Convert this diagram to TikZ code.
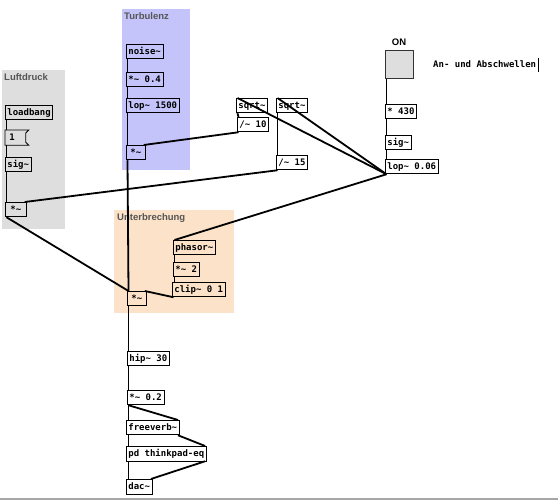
\documentclass[tikz,border=0pt]{standalone}
\usepackage{fontspec}
\newfontfamily\pdmono{DejaVu Sans Mono}
\newfontfamily\pdsans{Liberation Sans}
\newcommand{\pdtilde}{\char`\~}
\definecolor{grpgray}{RGB}{222,222,222}
\definecolor{grpblue}{RGB}{196,196,250}
\definecolor{grppeach}{RGB}{251,226,200}
\definecolor{lbl}{RGB}{85,85,85}
\definecolor{tglfill}{RGB}{222,222,222}
\tikzset{
  obj/.style={draw=black, line width=0.75pt, font=\pdmono\bfseries\fontsize{9}{10}\selectfont,
    inner xsep=2pt, inner ysep=0pt, minimum height=14.5pt, text height=7pt, text depth=2pt,
    anchor=north west},
  grp/.style={anchor=north west, inner sep=0pt, draw=none},
  grplabel/.style={anchor=north west, inner sep=0pt, font=\pdsans\bfseries\fontsize{9.5}{11}\selectfont, text=lbl},
  sig/.style={line width=1.8pt},
  ctl/.style={line width=0.8pt},
}
\begin{document}
\begin{tikzpicture}[x=1pt,y=-1pt]
\useasboundingbox (0,0) rectangle (558,500);
% groups
\node[grp, fill=grpgray, minimum width=63pt, minimum height=159pt] (gL) at (2,70) {};
\node[grp, fill=grpblue, minimum width=68pt, minimum height=161pt] (gT) at (122,9) {};
\node[grp, fill=grppeach, minimum width=120pt, minimum height=103pt] (gU) at (114,210) {};
\node[grplabel] (tL) at (4,73) {Luftdruck};
\node[grplabel] (tT) at (124,12) {Turbulenz};
\node[grplabel] (tU) at (117,213) {Unterbrechung};
% bottom border
\draw[line width=1.5pt, draw=gray!70] (0,499) -- (558,499);
% Turbulenz
\node[obj] (noise) at (126,44) {noise\pdtilde};
\node[obj] (mul04) at (126,72) {*\pdtilde{} 0.4};
\node[obj] (lop1500) at (126,98) {lop\pdtilde{} 1500};
\node[obj, minimum width=19pt] (mulT) at (126,145) {*\pdtilde};
% Luftdruck
\node[obj] (loadbang) at (5,105) {loadbang};
\node[obj, draw=none, minimum width=23pt, text width=15pt] (msg1) at (5,130) {1};
\draw[line width=0.75pt] (msg1.north west) -- (msg1.north east) -- ([xshift=-3pt,yshift=-3pt]msg1.north east)
  -- ([xshift=-3pt,yshift=3pt]msg1.south east) -- (msg1.south east) -- (msg1.south west) -- cycle;
\node[obj] (sigL) at (5,157) {sig\pdtilde};
\node[obj, minimum width=21pt] (mulL) at (5,202) {*\pdtilde};
% sqrt
\node[obj] (sqrt1) at (236,98) {sqrt\pdtilde};
\node[obj] (div10) at (237,117) {/\pdtilde{} 10};
\node[obj] (sqrt2) at (276,98) {sqrt\pdtilde};
\node[obj] (div15) at (276,155) {/\pdtilde{} 15};
% right column
\node[anchor=south, inner sep=0pt, font=\pdsans\bfseries\fontsize{9.5}{11}\selectfont] (onlbl) at (399,46) {ON};
\node[draw=black!80, line width=0.8pt, fill=tglfill, minimum width=28pt, minimum height=28pt, anchor=north west, inner sep=0pt] (tgl) at (385,50) {};
\node[anchor=west, inner sep=0pt, font=\pdmono\bfseries\fontsize{9}{10}\selectfont, text height=7pt, text depth=2pt] (cmt) at (433,65) {An- und Abschwellen};
\coordinate (curA) at ([xshift=2pt,yshift=7pt]cmt.east);
\coordinate (curB) at ([xshift=2pt,yshift=-7pt]cmt.east);
\draw[line width=0.8pt] (curA) -- (curB);
\node[obj] (mul430) at (385,104) {* 430};
\node[obj] (sigR) at (385,135) {sig\pdtilde};
\node[obj] (lop006) at (385,159) {lop\pdtilde{} 0.06};
% Unterbrechung
\node[obj] (phasor) at (173,240) {phasor\pdtilde};
\node[obj] (mul2) at (173,262) {*\pdtilde{} 2};
\node[obj] (clip) at (172,282) {clip\pdtilde{} 0 1};
\node[obj, minimum width=19pt] (mulU) at (127,291) {*\pdtilde};
% output chain
\node[obj] (hip) at (127,351) {hip\pdtilde{} 30};
\node[obj] (mul02) at (127,390) {*\pdtilde{} 0.2};
\node[obj] (freeverb) at (126,420) {freeverb\pdtilde};
\node[obj] (pdeq) at (126,446) {pd thinkpad-eq};
\node[obj] (dac) at (126,479) {dac\pdtilde};
% connections
\draw[sig] ([xshift=1.5pt]noise.south west) -- ([xshift=1.5pt]mul04.north west);
\draw[sig] ([xshift=1.5pt]mul04.south west) -- ([xshift=1.5pt]lop1500.north west);
\draw[sig] ([xshift=1.5pt]lop1500.south west) -- ([xshift=1.5pt]mulT.north west);
\draw[sig] ([xshift=1.5pt]div10.south west) -- ([xshift=-2pt]mulT.north east);
\draw[sig] ([xshift=1.5pt]mulT.south west) -- ([xshift=1.5pt]mulU.north west);
\draw[ctl] ([xshift=1.5pt]loadbang.south west) -- ([xshift=1.5pt]msg1.north west);
\draw[ctl] ([xshift=1.5pt]msg1.south west) -- ([xshift=1.5pt]sigL.north west);
\draw[sig] ([xshift=1.5pt]sigL.south west) -- ([xshift=1.5pt]mulL.north west);
\draw[sig] ([xshift=1.5pt]div15.south west) -- ([xshift=-2pt]mulL.north east);
\draw[sig] ([xshift=1.5pt]mulL.south west) -- ([xshift=1.5pt]mulU.north west);
\draw[sig] ([xshift=1.5pt]lop006.south west) -- ([xshift=1.5pt]sqrt1.north west);
\draw[sig] ([xshift=1.5pt]lop006.south west) -- ([xshift=1.5pt]sqrt2.north west);
\draw[sig] ([xshift=1.5pt]lop006.south west) -- ([xshift=1.5pt]phasor.north west);
\draw[sig] ([xshift=1.5pt]sqrt1.south west) -- ([xshift=1.5pt]div10.north west);
\draw[sig] ([xshift=1.5pt]sqrt2.south west) -- ([xshift=1.5pt]div15.north west);
\draw[ctl] ([xshift=1.5pt]tgl.south west) -- ([xshift=1.5pt]mul430.north west);
\draw[ctl] ([xshift=1.5pt]mul430.south west) -- ([xshift=1.5pt]sigR.north west);
\draw[sig] ([xshift=1.5pt]sigR.south west) -- ([xshift=1.5pt]lop006.north west);
\draw[sig] ([xshift=1.5pt]phasor.south west) -- ([xshift=1.5pt]mul2.north west);
\draw[sig] ([xshift=1.5pt]mul2.south west) -- ([xshift=2.5pt]clip.north west);
\draw[sig] ([xshift=1.5pt]clip.south west) -- ([xshift=-2pt]mulU.north east);
\draw[sig] ([xshift=1.5pt]mulU.south west) -- ([xshift=1.5pt]hip.north west);
\draw[sig] ([xshift=1.5pt]hip.south west) -- ([xshift=1.5pt]mul02.north west);
\draw[sig] ([xshift=1.5pt]mul02.south west) -- ([xshift=2.5pt]freeverb.north west);
\draw[sig] ([xshift=1.5pt]mul02.south west) -- ([xshift=-1.5pt]freeverb.north east);
\draw[sig] ([xshift=2.5pt]freeverb.south west) -- ([xshift=2.5pt]pdeq.north west);
\draw[sig] ([xshift=-1.5pt]freeverb.south east) -- ([xshift=-1.5pt]pdeq.north east);
\draw[sig] ([xshift=2.5pt]pdeq.south west) -- ([xshift=2.5pt]dac.north west);
\draw[sig] ([xshift=-1.5pt]pdeq.south east) -- ([xshift=-1.5pt]dac.north east);
\end{tikzpicture}
\end{document}
